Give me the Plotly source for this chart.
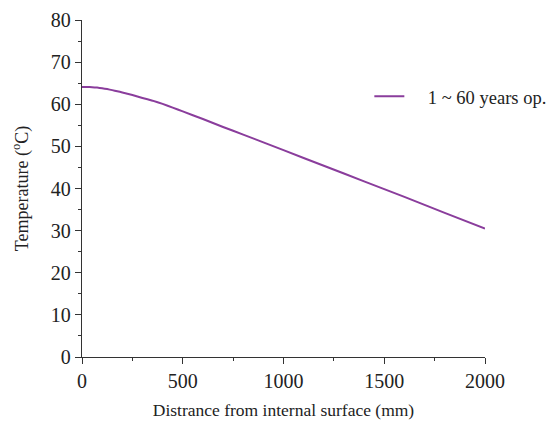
import plotly.graph_objects as go

# Through-wall temperature profile
distance_mm = [0, 25, 50, 75, 100, 125, 150, 175, 200, 250, 300, 350, 400,
               450, 500, 600, 700, 800, 1000, 1200, 1400, 1600, 1800, 2000]
temperature_c = [64.1, 64.1, 64.05, 63.95, 63.8, 63.6, 63.35, 63.1, 62.8, 62.2,
                 61.5, 60.85, 60.1, 59.2, 58.3, 56.5, 54.6, 52.8, 49.1, 45.4,
                 41.7, 38.0, 34.2, 30.5]
series_name = "1 ~ 60 years op."

x_ticks = [0, 500, 1000, 1500, 2000]
y_ticks = [0, 10, 20, 30, 40, 50, 60, 70, 80]

FONT = "Liberation Serif"
AXIS_COLOR = "#333333"
TEXT_COLOR = "#222222"

fig = go.Figure()
fig.add_trace(go.Scatter(
    x=distance_mm, y=temperature_c, mode="lines",
    name="\u2002\u2002" + series_name,
    line=dict(color="#8a3d9c", width=2, shape="spline", smoothing=0.2),
))

axis_common = dict(
    showline=True, linecolor=AXIS_COLOR, linewidth=1.3,
    ticks="outside", ticklen=6, tickwidth=1.3, tickcolor=AXIS_COLOR,
    showgrid=False, zeroline=False, automargin=False,
    tickfont=dict(family=FONT, size=20, color=TEXT_COLOR),
)

fig.update_xaxes(
    range=[0, 2000], tickvals=x_ticks,
    minor=dict(ticks="outside", ticklen=3, tickwidth=1.3, tickcolor=AXIS_COLOR, dtick=250),
    title=dict(text="Distrance from internal surface (mm)",
               font=dict(family=FONT, size=17.5, color=TEXT_COLOR), standoff=12),
    **axis_common,
)
fig.update_yaxes(
    range=[0, 80], tickvals=y_ticks, ticklabelstandoff=0,
    minor=dict(ticks="outside", ticklen=3, tickwidth=1.3, tickcolor=AXIS_COLOR, dtick=5),
    title=dict(text="Temperature (<sup>o</sup>C)",
               font=dict(family=FONT, size=18, color=TEXT_COLOR), standoff=17),
    **axis_common,
)

fig.update_layout(
    width=558, height=424,
    margin=dict(l=82, r=73, t=20, b=67, autoexpand=False),
    plot_bgcolor="white", paper_bgcolor="white",
    showlegend=True,
    legend=dict(x=0.713, y=0.772, xanchor="left", yanchor="middle",
                bgcolor="rgba(0,0,0,0)",
                font=dict(family=FONT, size=18.5, color=TEXT_COLOR)),
)

fig.write_html("out.html")
